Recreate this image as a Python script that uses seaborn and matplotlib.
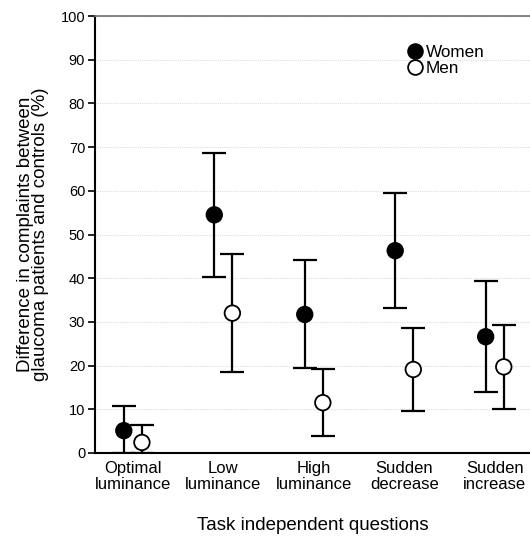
import numpy as np
import pandas as pd
import matplotlib
matplotlib.use("Agg")
import matplotlib.pyplot as plt
import seaborn as sns

categories = ["Optimal\nluminance", "Low\nluminance", "High\nluminance", "Sudden\ndecrease", "Sudden\nincrease"]
women = [5.1, 54.5, 31.7, 46.3, 26.6]
women_lo = [0.0, 40.3, 19.4, 33.2, 14.0]
women_hi = [10.8, 68.6, 44.1, 59.6, 39.4]
men = [2.4, 32.0, 11.5, 19.1, 19.7]
men_lo = [0.0, 18.6, 3.8, 9.6, 10.1]
men_hi = [6.3, 45.5, 19.2, 28.6, 29.2]
yticks = list(range(0, 101, 10))

sns.set_theme(style="white")
plt.rcParams['font.family'] = ['Liberation Sans', 'DejaVu Sans']
plt.rcParams.update({"text.color": "black", "axes.labelcolor": "black",
                     "xtick.color": "black", "ytick.color": "black"})

idx = np.arange(len(categories))
off = 0.1
df = pd.concat([
    pd.DataFrame({"x": idx - off, "y": women, "lo": women_lo, "hi": women_hi, "Sex": "Women"}),
    pd.DataFrame({"x": idx + off, "y": men, "lo": men_lo, "hi": men_hi, "Sex": "Men"}),
])

fig = plt.figure(figsize=(5.30, 5.36), dpi=100)
ax = fig.add_axes([0.179, 0.155, 0.821, 0.815])

for _, r in df.iterrows():
    ax.errorbar(r["x"], r["y"], yerr=[[r["y"] - r["lo"]], [r["hi"] - r["y"]]],
                fmt="none", ecolor="black", elinewidth=1.6, capsize=8.5, capthick=1.6, zorder=2)

sns.scatterplot(data=df, x="x", y="y", hue="Sex", hue_order=["Women", "Men"],
                palette={"Women": "black", "Men": "white"}, edgecolor="black",
                linewidth=1.3, s=125, zorder=3, ax=ax, legend=True)

ax.set_xlim(-0.42, 4.39)
ax.set_ylim(0, 100)
ax.set_yticks(yticks)
ax.set_xticks(idx)
ax.set_xticklabels(categories, fontsize=12, linespacing=1.05)
ax.tick_params(axis="y", length=5, width=1.2, color="black", labelsize=10.5, pad=2, left=True)
ax.tick_params(axis="x", length=0, pad=6)
for t in yticks[1:]:
    ax.axhline(t, color="#dddddd", lw=0.8, ls=(0, (1, 1)), zorder=0)
ax.spines["left"].set_color("black")
ax.spines["left"].set_linewidth(1.5)
ax.spines["bottom"].set_color("black")
ax.spines["bottom"].set_linewidth(1.5)
ax.spines["top"].set_color("#777777")
ax.spines["top"].set_linewidth(1.3)
ax.spines["right"].set_visible(False)
ax.set_xlabel("Task independent questions", fontsize=13.5, labelpad=18)
ax.set_ylabel("Difference in complaints between\nglaucoma patients and controls (%)", fontsize=13.5, labelpad=8, linespacing=0.9)

leg = ax.legend(loc="upper left", bbox_to_anchor=(0.68, 0.95), frameon=False,
                handletextpad=-0.35, labelspacing=0.1, fontsize=12.3, borderaxespad=0, markerscale=0.95)

fig.savefig("out.png", dpi=100)
